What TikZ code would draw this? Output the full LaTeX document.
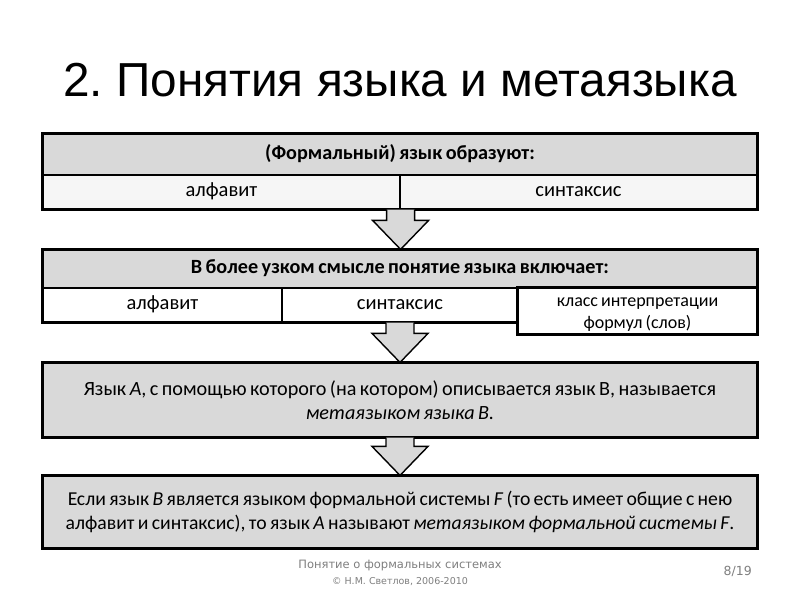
\documentclass[tikz,border=0pt]{standalone}
\usepackage{fontspec}
\setmainfont{Carlito}[WordSpace=0.75]
\newfontfamily\titlefont{Liberation Sans}
\newfontfamily\footfont{DejaVu Sans}
\usetikzlibrary{calc}
\definecolor{boxgray}{HTML}{D9D9D9}
\definecolor{rowgray}{HTML}{F6F6F6}
\definecolor{footgray}{HTML}{7F7F7F}
\frenchspacing
\tikzset{
  cell/.style={draw=black, line width=1.2pt, inner sep=2pt, align=center,
    font=\fontsize{20.5}{24}\selectfont},
  line1/.style={text height=13pt, text depth=4pt},
  hdr/.style={cell, line1, fill=boxgray, font=\fontsize{20.2}{24}\selectfont\bfseries},
  rowcell/.style={cell, fill=white},
  bigbox/.style={cell, fill=boxgray, font=\fontsize{19.7}{24}\selectfont},
  frame/.style={draw=black, line width=2.4pt},
  blockar/.style={draw=black, line width=1.4pt, fill=boxgray, line join=miter},
  foot/.style={text=footgray, inner sep=0pt}
}
\newcommand\blockarrow[2]{%
  \fill[boxgray] let \p1=(#1), \p2=(#2) in
    (\x1-14pt,\y1) -- (\x1-14pt,\y2+29pt) -- (\x1-28pt,\y2+29pt) -- (\x1,\y2)
    -- (\x1+28pt,\y2+29pt) -- (\x1+14pt,\y2+29pt) -- (\x1+14pt,\y1) -- cycle;
  \draw[blockar, fill=none] let \p1=(#1), \p2=(#2) in
    (\x1-14pt,\y1) -- (\x1-14pt,\y2+29pt) -- (\x1-28pt,\y2+29pt) -- (\x1,\y2)
    -- (\x1+28pt,\y2+29pt) -- (\x1+14pt,\y2+29pt) -- (\x1+14pt,\y1);}
\begin{document}
\begin{tikzpicture}[x=1pt,y=-1pt]
\useasboundingbox[fill=white] (0,0) rectangle (800,600);
% title
\node[anchor=base, inner sep=0pt, font=\titlefont\fontsize{47.7}{52}\selectfont] (title) at (400,96) {2. Понятия языка и метаязыка};
% block 1
\node[hdr, minimum width=714pt, minimum height=41pt] (h1) at (400,154.5) {(Формальный) язык образуют:};
\node[rowcell, line1, fill=rowgray, minimum width=357pt, minimum height=34pt] (r1a) at (221.5,192) {алфавит};
\node[rowcell, line1, fill=rowgray, minimum width=357pt, minimum height=34pt] (r1b) at (578.5,192) {синтаксис};
\draw[frame] (h1.north west) rectangle (r1b.south east);
% block 2
\node[hdr, minimum width=714pt, minimum height=38pt] (h2) at (400,269) {В более узком смысле понятие языка включает:};
\node[rowcell, line1, minimum width=239pt, minimum height=34pt] (r2a) at (162.5,305) {алфавит};
\node[rowcell, line1, minimum width=236pt, minimum height=34pt] (r2b) at (400,305) {синтаксис};
\draw[frame] (h2.north west) rectangle (r2b.south east -| h2.east);
\node[rowcell, minimum width=239pt, minimum height=46pt] (r2c) at (637.5,311) {};
\node[align=center, inner sep=0pt, font=\fontsize{18}{22}\selectfont] (r2ct) at ($(r2c.center)+(0,4)$) {класс интерпретации\\формул (слов)};
\draw[frame] (r2c.north west) rectangle (r2c.south east);
% block 3
\node[bigbox, minimum width=714pt, minimum height=74pt, font=\fontsize{20.2}{24}\selectfont] (b3) at (400,400) {Язык \textit{А}, с помощью которого (на котором) описывается язык В, называется\\ \textit{метаязыком языка В.}};
\draw[frame] (b3.north west) rectangle (b3.south east);
% block 4
\node[bigbox, minimum width=714pt, minimum height=72pt] (b4) at (400,512) {Если язык \textit{В} является языком формальной системы \textit{F} (то есть имеет общие с нею\\ алфавит и синтаксис), то язык \textit{А} называют \textit{метаязыком формальной системы F}.};
\draw[frame] (b4.north west) rectangle (b4.south east);
% arrows
\blockarrow{r1a.south east}{h2.north}
\blockarrow{r2b.south}{b3.north}
\blockarrow{b3.south}{b4.north}
% footer
\node[foot, anchor=base, font=\footfont\fontsize{11.5}{13}\selectfont] (f1) at (400,568) {Понятие о формальных системах};
\node[foot, anchor=base, font=\footfont\fontsize{9.5}{11}\selectfont] (f2) at (400,584) {© Н.М. Светлов, 2006-2010};
\node[foot, anchor=base east, font=\footfont\fontsize{12.5}{14}\selectfont] (pg) at (752,575) {8/19};
\end{tikzpicture}
\end{document}
